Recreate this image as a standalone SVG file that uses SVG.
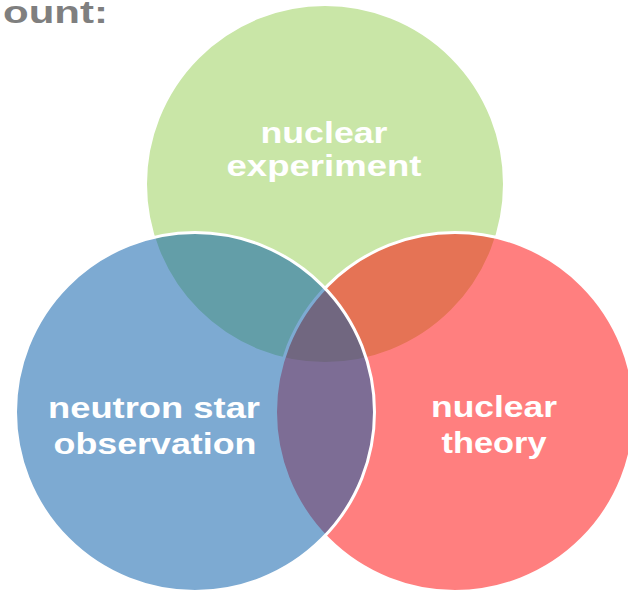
<svg xmlns="http://www.w3.org/2000/svg" width="628" height="593" viewBox="0 0 628 593">
<style>
.c{stroke:#ffffff;stroke-width:3;fill-opacity:0.52}
.t{font-family:"Liberation Sans",Arial,sans-serif;font-weight:bold;font-size:30px;fill:#ffffff;text-anchor:middle}
.title{font-family:"Liberation Sans",Arial,sans-serif;font-weight:bold;font-size:31px;fill:#7F7F7F}
</style>
<rect width="628" height="593" fill="#ffffff"/>
<g id="title"><text class="title" x="3" y="22.5" textLength="105" lengthAdjust="spacingAndGlyphs">ount:</text></g>
<g id="nuclear-experiment">
<circle class="c" cx="325" cy="184" r="179.5" fill="#97CF56"/>
<text class="t" x="324" y="143" textLength="127" lengthAdjust="spacingAndGlyphs">nuclear</text>
<text class="t" x="324" y="176" textLength="195" lengthAdjust="spacingAndGlyphs">experiment</text>
</g>
<g id="nuclear-theory">
<circle class="c" cx="455" cy="412" r="179.5" fill="#FF0909"/>
<text class="t" x="494" y="417" textLength="126" lengthAdjust="spacingAndGlyphs">nuclear</text>
<text class="t" x="494" y="453" textLength="105" lengthAdjust="spacingAndGlyphs">theory</text>
</g>
<g id="neutron-star-observation">
<circle class="c" cx="195" cy="412" r="179.5" fill="#055CA8"/>
<text class="t" x="154" y="418" textLength="212" lengthAdjust="spacingAndGlyphs">neutron star</text>
<text class="t" x="155" y="454" textLength="203" lengthAdjust="spacingAndGlyphs">observation</text>
</g>
<g id="connectors"></g>
</svg>
